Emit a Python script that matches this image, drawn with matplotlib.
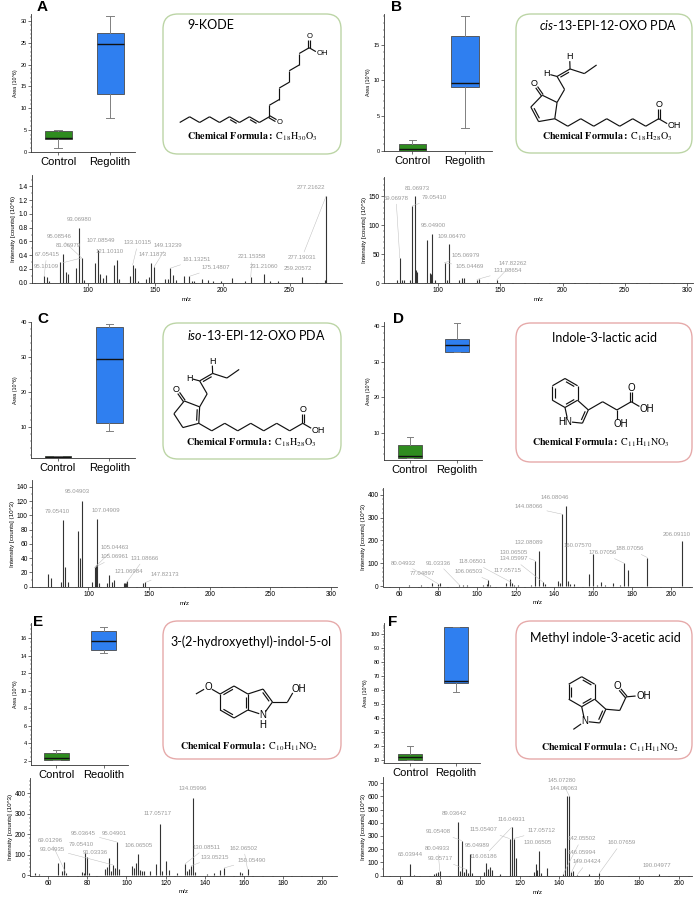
import numpy as np
import matplotlib
matplotlib.use("Agg")
import matplotlib.pyplot as plt
from matplotlib.patches import FancyBboxPatch
from matplotlib.ticker import MultipleLocator, FormatStrFormatter

plt.rcParams['font.family'] = ['Liberation Sans', 'DejaVu Sans']
plt.rcParams['mathtext.fontset'] = 'custom'
plt.rcParams['mathtext.rm'] = 'Lato'
plt.rcParams['mathtext.it'] = 'Lato:italic'
plt.rcParams['mathtext.bf'] = 'Lato:bold'

# ---------------- data ----------------
groups = ['Control', 'Regolith']
# box stats (Area, 10^6): whisker low, q1, median, q3, whisker high
a_ctrl = [1.0, 2.9, 3.3, 4.9, 5.1]
a_reg = [7.9, 13.2, 24.7, 27.2, 31.2]
b_ctrl = [0.0, 0.05, 0.3, 1.05, 1.5]
b_reg = [3.3, 9.06, 9.6, 16.2, 19.0]
c_ctrl = [1.2, 1.25, 1.4, 1.6, 1.65]
c_reg = [8.7, 11.0, 29.3, 38.5, 39.3]
d_ctrl = [3.1, 3.1, 3.4, 6.6, 8.8]
d_reg = [32.8, 32.8, 34.7, 36.4, 40.8]
e_ctrl = [2.1, 2.1, 2.4, 2.87, 3.25]
e_reg = [14.3, 14.6, 15.6, 16.8, 17.2]
f_ctrl = [10.0, 10.0, 12.0, 14.3, 20.0]
f_reg = [58.8, 64.8, 66.5, 104.8, 105.2]

# MS/MS spectra
a_mz = [67, 69, 71, 79, 81, 83, 85, 91, 93, 95, 97, 105, 107, 109, 111, 113, 119, 121, 123,
        131, 133, 135, 137, 143, 145, 147, 149, 157, 159, 161, 163, 165, 171, 175, 177, 179,
        185, 189, 193, 199, 207, 217, 221, 231, 235, 241, 259, 276.4, 277.2]
a_int = [0.09, 0.08, 0.02, 0.30, 0.41, 0.16, 0.12, 0.22, 0.80, 0.36, 0.04, 0.29, 0.47, 0.13,
         0.07, 0.11, 0.25, 0.33, 0.05, 0.10, 0.26, 0.21, 0.03, 0.05, 0.08, 0.28, 0.23, 0.06,
         0.05, 0.21, 0.11, 0.04, 0.10, 0.09, 0.03, 0.02, 0.06, 0.04, 0.03, 0.02, 0.07, 0.03,
         0.08, 0.12, 0.03, 0.02, 0.08, 0.04, 1.26]
a_lab = [("277.21622", 266, 1.385), ("93.06980", 93, 0.92), ("95.08546", 78, 0.67),
         ("81.06979", 85, 0.54), ("67.05415", 69, 0.41), ("95.10109", 69, 0.23),
         ("107.08549", 109, 0.61), ("121.10110", 116, 0.45), ("133.10115", 137, 0.58),
         ("149.13239", 159, 0.54), ("147.11873", 148, 0.41), ("161.13251", 181, 0.34),
         ("175.14807", 195, 0.22), ("221.15358", 222, 0.38), ("231.21060", 231, 0.23),
         ("277.19031", 259, 0.36), ("259.20572", 256, 0.20)]

b_mz = [67, 69, 71, 72, 77, 79, 81, 82, 83, 91, 93, 94, 95, 97, 105, 107, 109, 117, 119, 121,
        131, 133, 147]
b_int = [5, 43, 5, 5, 5, 133, 150, 22, 19, 75, 18, 15, 85, 5, 35, 5, 68, 5, 9, 8, 6, 7, 5]
b_lab = [("81.06973", 83, 164), ("69.06978", 66, 146.5), ("79.05410", 97, 147),
         ("95.04900", 96, 100), ("109.06470", 111, 81), ("105.06979", 122, 48),
         ("105.04469", 125, 28), ("147.82262", 160, 34), ("131.08654", 156, 21)]

c_mz = [67, 69, 77, 79, 81, 83, 91, 93, 95, 103, 105, 106, 107, 109, 115, 117, 119, 121,
        129, 130, 131, 132, 145, 147]
c_int = [18, 12, 6, 94, 28, 6, 78, 40, 121, 7, 27, 30, 95, 5, 5, 16, 6, 9, 5, 5, 5, 8, 5, 6]
c_lab = [("95.04903", 91, 133), ("79.05410", 74, 105), ("107.04909", 114, 107),
         ("105.04463", 122, 55), ("105.06961", 122, 42), ("131.08666", 146, 40),
         ("121.06984", 133, 21), ("147.82173", 163, 17)]

d_mz = [65, 71, 77, 80, 81, 91, 93, 95, 103, 105, 106, 107, 115, 117, 118, 119, 121, 128,
        130, 132, 134, 135, 142, 143, 144, 146, 147, 148, 150, 158, 160, 162, 164, 166, 170,
        174, 176, 178, 188, 206]
d_int = [3, 5, 15, 10, 12, 5, 5, 5, 3, 8, 25, 5, 12, 30, 15, 5, 5, 5, 112, 155, 18, 8, 22,
         15, 315, 350, 22, 8, 8, 55, 142, 5, 18, 5, 12, 5, 100, 70, 125, 197]
d_lab = [("146.08046", 140, 387), ("144.08066", 127, 347), ("132.08089", 127, 189),
         ("130.06505", 119, 145), ("134.05997", 119, 119), ("160.07570", 152, 176),
         ("176.07056", 165, 145), ("188.07056", 179, 163), ("206.09110", 203, 224),
         ("80.04932", 62, 101), ("91.03336", 80, 101), ("118.06501", 98, 106),
         ("77.04897", 72, 57), ("106.06503", 96, 62), ("117.05715", 116, 66)]

e_mz = [53, 55, 65, 67, 68, 69, 77, 78, 79, 80, 81, 89, 90, 91, 92, 93, 94, 95, 96, 103, 104,
        105, 106, 107, 108, 109, 112, 115, 117, 118, 120, 122, 126, 130, 131, 132, 133, 134,
        135, 141, 145, 148, 150, 158, 159, 162]
e_int = [8, 5, 60, 18, 62, 10, 15, 10, 110, 88, 10, 30, 40, 85, 20, 50, 35, 162, 28, 45, 35,
         60, 102, 25, 18, 22, 20, 55, 252, 22, 70, 25, 10, 55, 20, 30, 45, 378, 15, 5, 12, 25,
         35, 15, 12, 28]
e_lab = [("134.05996", 134, 424), ("117.05717", 116, 302), ("95.03645", 78, 205),
         ("95.04901", 94, 205), ("69.01296", 61, 171), ("79.05410", 77, 151),
         ("93.04935", 62, 127), ("91.03336", 84, 112), ("106.06505", 106, 146),
         ("130.08511", 141, 137), ("162.06502", 160, 132), ("133.05215", 145, 88),
         ("150.05490", 164, 73)]

f_mz = [65, 67, 77, 78, 79, 80, 89, 90, 91, 92, 93, 94, 95, 96, 102, 103, 104, 105, 106, 110,
        115, 116, 117, 118, 127, 128, 129, 130, 131, 134, 142, 143, 144, 145, 146, 147, 149,
        155, 160, 190]
f_int = [88, 5, 12, 18, 30, 35, 403, 38, 265, 30, 48, 20, 162, 18, 25, 95, 50, 65, 40, 15,
         280, 365, 280, 130, 25, 85, 45, 185, 20, 55, 15, 210, 600, 600, 25, 35, 8, 12, 18, 12]
f_lab = [("145.07280", 141, 722), ("144.06063", 142, 662), ("89.03642", 87.5, 473),
         ("116.04931", 116, 428), ("91.05408", 79, 331), ("115.05407", 102, 346),
         ("117.05712", 131, 338), ("142.05502", 151, 278), ("95.04989", 99, 226),
         ("130.06505", 129, 248), ("80.04933", 79, 203), ("65.03944", 65, 158),
         ("93.05717", 80, 128), ("116.06186", 102, 143), ("146.05994", 151, 173),
         ("160.07659", 171, 248), ("149.04424", 154, 105), ("190.04977", 189, 75)]

titles = ['9-KODE', r'$\it{cis}$-13-EPI-12-OXO PDA', r'$\it{iso}$-13-EPI-12-OXO PDA',
          'Indole-3-lactic acid', '3-(2-hydroxyethyl)-indol-5-ol', 'Methyl indole-3-acetic acid']
formulas = ['C_{18}H_{30}O_{3}', 'C_{18}H_{28}O_{3}', 'C_{18}H_{28}O_{3}',
            'C_{11}H_{11}NO_{3}', 'C_{10}H_{11}NO_{2}', 'C_{11}H_{11}NO_{2}']
letters = ['A', 'B', 'C', 'D', 'E', 'F']

# ---------------- layout helpers ----------------
W_PX, H_PX = 697, 898
fig = plt.figure(figsize=(6.97, 8.98), dpi=100)


def px_axes(l, t, r, b):
    return fig.add_axes([l / W_PX, 1 - b / H_PX, (r - l) / W_PX, (b - t) / H_PX])


def draw_box(rect, ctrl, reg, ylim, ystep, yminor, xlim):
    ax = px_axes(*rect)
    stats = []
    for lab, v in zip(groups, [ctrl, reg]):
        stats.append(dict(label=lab, whislo=v[0], q1=v[1], med=v[2], q3=v[3],
                          whishi=v[4], fliers=[]))
    bp = ax.bxp(stats, positions=[1, 2], widths=0.52, patch_artist=True, showfliers=False,
                boxprops=dict(edgecolor='#4a4a4a', linewidth=0.6),
                medianprops=dict(color='#111111', linewidth=1.0),
                whiskerprops=dict(color='#808080', linewidth=0.7),
                capprops=dict(color='#808080', linewidth=0.7), capwidths=0.14)
    for patch, col in zip(bp['boxes'], ['#2f8c1f', '#2f7ff0']):
        patch.set_facecolor(col)
    ax.set_xlim(*xlim)
    ax.set_ylim(*ylim)
    ax.yaxis.set_major_locator(MultipleLocator(ystep))
    ax.yaxis.set_minor_locator(MultipleLocator(yminor))
    for s in ('top', 'right'):
        ax.spines[s].set_visible(False)
    for s in ('left', 'bottom'):
        ax.spines[s].set_linewidth(0.6)
        ax.spines[s].set_color('#333333')
    ax.tick_params(axis='y', labelsize=4, length=2, width=0.4, pad=1)
    ax.tick_params(axis='y', which='minor', length=1, width=0.3)
    ax.tick_params(axis='x', labelsize=8, length=2, width=0.4, pad=1.5)
    ax.set_ylabel('Area (10^6)', fontsize=3.8, labelpad=2)
    return ax


def draw_spec(rect, mz, inten, labels, xlim, ylim, xmaj, xmin, ymaj, ymin, unit, yfmt):
    ax = px_axes(*rect)
    ax.vlines(mz, 0, inten, color='#333333', lw=0.8)
    ax.set_xlim(*xlim)
    ax.set_ylim(*ylim)
    ax.xaxis.set_major_locator(MultipleLocator(xmaj))
    ax.xaxis.set_minor_locator(MultipleLocator(xmin))
    ax.yaxis.set_major_locator(MultipleLocator(ymaj))
    ax.yaxis.set_minor_locator(MultipleLocator(ymin))
    ax.yaxis.set_major_formatter(FormatStrFormatter(yfmt))
    for s in ('top', 'right'):
        ax.spines[s].set_visible(False)
    for s in ('left', 'bottom'):
        ax.spines[s].set_linewidth(0.6)
        ax.spines[s].set_color('#333333')
    ax.tick_params(labelsize=4.8, length=2, width=0.4, pad=1)
    ax.tick_params(which='minor', length=1, width=0.3)
    ax.set_ylabel('Intensity [counts] (10^%s)' % unit, fontsize=4.5, labelpad=1.5)
    ax.set_xlabel('m/z', fontsize=4.5, labelpad=2)
    ppx = (rect[2] - rect[0]) / (xlim[1] - xlim[0])
    ppy = (rect[3] - rect[1]) / (ylim[1] - ylim[0])
    mz_arr = np.array(mz, float)
    in_arr = np.array(inten, float)
    for txt, lx, ly in labels:
        i = int(np.argmin(np.abs(mz_arr - float(txt))))
        pm, pi = mz_arr[i], in_arr[i]
        near = abs(pm - float(txt)) <= 1.6
        half = len(txt) * 3.3 / 2
        above = abs(lx - pm) * ppx < half + 1 and 0 < (ly - pi) * ppy < 12
        kw = dict(ha='center', va='center', fontsize=4.3, color='#9a9a9a')
        if near and not above:
            ax.annotate(txt, xy=(pm, pi), xytext=(lx, ly),
                        arrowprops=dict(arrowstyle='-', color='#bdbdbd', lw=0.35,
                                        shrinkA=0.5, shrinkB=0), **kw)
        else:
            ax.text(lx, ly, txt, **kw)
    return ax


def struct_box(rect, edge):
    l, t, r, b = rect
    ax = px_axes(l, t, r, b)
    w, h = r - l, b - t
    ax.set_xlim(0, w)
    ax.set_ylim(0, h)
    ax.axis('off')
    ax.add_patch(FancyBboxPatch((1, 1), w - 2, h - 2,
                                boxstyle='round,pad=0,rounding_size=15',
                                fc='white', ec=edge, lw=1.0, clip_on=False))
    return ax


# ---------------- structure drawing helpers ----------------
def P(x, y):
    return np.array([x, y], float)


def step(p, ang, L):
    r = np.radians(ang)
    return p + L * np.array([np.cos(r), np.sin(r)])


def walk(p, angs, L):
    pts = [np.asarray(p, float)]
    for a in angs:
        pts.append(step(pts[-1], a, L))
    return pts


def seg(ax, p, q, s0=0.0, s1=0.0, off=0.0, trim=0.0):
    d = q - p
    u = d / np.linalg.norm(d)
    n = np.array([-u[1], u[0]])
    a = p + u * (s0 + trim) + n * off
    b = q - u * (s1 + trim) + n * off
    ax.plot([a[0], b[0]], [a[1], b[1]], color='#111111', lw=0.85, solid_capstyle='butt')


def chain(ax, pts):
    for p, q in zip(pts[:-1], pts[1:]):
        seg(ax, p, q)


def inner(ax, p, q, c, gap=2.3):
    d = q - p
    u = d / np.linalg.norm(d)
    n = np.array([-u[1], u[0]])
    side = 1 if np.dot(c - (p + q) / 2, n) > 0 else -1
    seg(ax, p, q, off=side * gap, trim=2.5)


def carbonyl(ax, p, q, s1=3.8):
    seg(ax, p, q, s1=s1, off=1.1)
    seg(ax, p, q, s1=s1, off=-1.1)


def atom(ax, p, s, fs):
    ax.text(p[0], p[1], s, ha='center', va='center', fontsize=fs)


def oh(ax, p, fs):
    ax.text(p[0] - 0.54 * fs, p[1], 'OH', ha='left', va='center', fontsize=fs)


def mol_kode(ax, fs):
    L = 11.5
    left = walk(P(17.7, 32.5), [30, -30] * 4 + [30], L)
    chain(ax, left)
    for k in (5, 7):
        seg(ax, left[k], left[k + 1], off=-2.2, trim=2)
    k9 = left[-1]
    o = step(k9, -30, L)
    carbonyl(ax, k9, o)
    atom(ax, o, 'O', fs)
    up = walk(k9, [90, 30] * 4, L)
    chain(ax, up)
    c1 = up[-1]
    o2 = step(c1, 90, L)
    carbonyl(ax, c1, o2)
    atom(ax, o2, 'O', fs)
    o3 = step(c1, -30, L)
    seg(ax, c1, o3, s1=3.8)
    oh(ax, o3, fs)


def mol_opda(ax, c, a0, ring_db, fs):
    R, L = 14, 15
    vs = [c + R * np.array([np.cos(np.radians(a0 - 72 * i)), np.sin(np.radians(a0 - 72 * i))])
          for i in range(5)]
    for i in range(5):
        seg(ax, vs[i], vs[(i + 1) % 5])
    inner(ax, vs[ring_db], vs[(ring_db + 1) % 5], c)
    o = step(vs[0], 125, 14)
    carbonyl(ax, vs[0], o, s1=4.2)
    atom(ax, o, 'O', fs)
    side = walk(vs[1], [60, 120, 30, -18, 35], L)
    chain(ax, side)
    seg(ax, side[2], side[3], off=-2.3, trim=2.5)
    h1 = step(side[2], 165, 11)
    seg(ax, side[2], h1, s1=4)
    atom(ax, h1, 'H', fs)
    h2 = step(side[3], 92, 12)
    seg(ax, side[3], h2, s1=4.2)
    atom(ax, h2, 'H', fs)
    tail = walk(vs[2], [-30, 30] * 4, L)
    chain(ax, tail)
    c1 = tail[-1]
    o2 = step(c1, 90, 14)
    carbonyl(ax, c1, o2, s1=4.2)
    atom(ax, o2, 'O', fs)
    o3 = step(c1, -30, 14)
    seg(ax, c1, o3, s1=4.2)
    oh(ax, o3, fs)


def indole(ax, c, r, rot, fs):
    c30 = np.cos(np.radians(30))
    std = dict(C4=(0, 1), C3a=(c30, 0.5), C7a=(c30, -0.5), C7=(0, -1),
               C6=(-c30, -0.5), C5=(-c30, 0.5))
    pc = np.array([c30 + 0.6882, 0.0])
    rp = 0.8507
    for name, ang in (('C3', 72), ('C2', 0), ('N1', -72)):
        std[name] = tuple(pc + rp * np.array([np.cos(np.radians(ang)), np.sin(np.radians(ang))]))
    th = np.radians(rot)
    rm = np.array([[np.cos(th), -np.sin(th)], [np.sin(th), np.cos(th)]])
    at = {k: c + r * (rm @ np.array(v)) for k, v in std.items()}
    pcen = c + r * (rm @ pc)
    ring6 = ['C4', 'C3a', 'C7a', 'C7', 'C6', 'C5']
    for i in range(6):
        seg(ax, at[ring6[i]], at[ring6[(i + 1) % 6]])
    seg(ax, at['C3a'], at['C3'])
    seg(ax, at['C3'], at['C2'])
    seg(ax, at['C2'], at['N1'], s1=4)
    seg(ax, at['N1'], at['C7a'], s0=4)
    for a_, b_ in (('C4', 'C5'), ('C6', 'C7'), ('C3a', 'C7a')):
        inner(ax, at[a_], at[b_], c)
    inner(ax, at['C2'], at['C3'], pcen)
    atom(ax, at['N1'], 'N', fs)
    return at


def mol_ila(ax, fs):
    at = indole(ax, P(50, 70), 14.5, -60, fs)
    atom(ax, at['N1'] + P(-6, 0), 'H', fs)
    ch = walk(at['C3'], [30, -30, 30], 16.5)
    chain(ax, ch)
    o = step(ch[2], -90, 14)
    seg(ax, ch[2], o, s1=4.5)
    oh(ax, o, fs)
    c1 = ch[3]
    o2 = step(c1, 90, 14)
    carbonyl(ax, c1, o2, s1=4.5)
    atom(ax, o2, 'O', fs)
    o3 = step(c1, -30, 14)
    seg(ax, c1, o3, s1=4.5)
    oh(ax, o3, fs)


def mol_hei(ax, fs):
    at = indole(ax, P(72, 58), 16, 0, fs)
    atom(ax, at['N1'] + P(0, -10), 'H', fs)
    o = step(at['C5'], 150, 14)
    seg(ax, at['C5'], o, s1=4.5)
    atom(ax, o, 'O', fs)
    me = step(o, 210, 14)
    seg(ax, o, me, s0=4.5)
    ch2 = step(at['C2'], 0, 15)
    seg(ax, at['C2'], ch2)
    o2 = step(ch2, 60, 15)
    seg(ax, ch2, o2, s1=4.5)
    oh(ax, o2, fs)


def mol_mia(ax, fs):
    at = indole(ax, P(66.7, 68.3), 15, -60, fs)
    me = step(at['N1'], -145, 14)
    seg(ax, at['N1'], me, s0=4.5)
    ch2 = step(at['C3'], -5, 14)
    seg(ax, at['C3'], ch2)
    c1 = step(ch2, 65, 15)
    seg(ax, ch2, c1)
    o = step(c1, 130, 14)
    carbonyl(ax, c1, o, s1=4.5)
    atom(ax, o, 'O', fs)
    o2 = step(c1, 5, 14)
    seg(ax, c1, o2, s1=4.5)
    oh(ax, o2, fs)


# ---------------- panels ----------------
box_rects = [(31, 14, 135, 152), (384, 14, 492, 151), (31, 322, 135, 458),
             (384, 322, 482, 460), (31, 623, 128, 765), (384, 623, 480, 763)]
box_data = [(a_ctrl, a_reg), (b_ctrl, b_reg), (c_ctrl, c_reg),
            (d_ctrl, d_reg), (e_ctrl, e_reg), (f_ctrl, f_reg)]
box_ylim = [(0, 31.6), (0, 19.3), (1, 40), (2.4, 41.2), (1.55, 17.7), (8, 107.8)]
box_ystep = [(5, 1), (5, 1), (10, 2), (10, 2), (2, 0.5), (10, 2)]
box_xlim = [(0.48, 2.48), (0.46, 2.51), (0.476, 2.5), (0.45, 2.53), (0.47, 2.51), (0.435, 2.52)]

for i in range(6):
    draw_box(box_rects[i], box_data[i][0], box_data[i][1], box_ylim[i],
             box_ystep[i][0], box_ystep[i][1], box_xlim[i])

spec_specs = [
    ((32, 175, 342, 283), a_mz, a_int, a_lab, (58, 289), (-0.005, 1.566), 50, 10, 0.2, 0.1, '6', '%.1f'),
    ((384, 177, 693, 283.3), b_mz, b_int, b_lab, (56.3, 305), (-0.5, 183), 50, 10, 50, 10, '3', '%d'),
    ((32, 480, 337, 587), c_mz, c_int, c_lab, (53.4, 305), (-0.4, 149.8), 50, 10, 20, 10, '3', '%d'),
    ((383, 488, 692, 586.5), d_mz, d_int, d_lab, (51.6, 211), (-2, 430), 20, 5, 100, 20, '3', '%d'),
    ((30, 778, 337, 875.5), e_mz, e_int, e_lab, (50.6, 207.8), (-2, 475), 20, 5, 100, 20, '3', '%d'),
    ((383, 777, 692, 876), f_mz, f_int, f_lab, (51.5, 206.5), (-3, 746), 20, 5, 100, 50, '3', '%d'),
]
for sp in spec_specs:
    draw_spec(*sp)

struct_rects = [(162, 13, 342, 155), (515, 13, 693, 154), (162, 322, 342, 460),
                (515, 322, 693, 463), (162, 620, 342, 760), (515, 620, 693, 760)]
edges = ['#bcd5a6', '#bcd5a6', '#bcd5a6', '#e6aaaa', '#e6aaaa', '#e6aaaa']
title_pos = [(25, 130, 'left'), (93.5, 129, 'center'), (94.7, 125, 'center'),
             (90, 125, 'center'), (89, 118, 'center'), (90, 122, 'center')]
formula_pos = [(90, 18), (92.5, 17), (89, 17), (86, 20), (87, 13), (95, 12)]

for i in range(6):
    ax = struct_box(struct_rects[i], edges[i])
    tx, ty, ha = title_pos[i]
    ax.text(tx, ty, titles[i], ha=ha, va='center', fontsize=9, family='Lato')
    fx, fy = formula_pos[i]
    ax.text(fx, fy, r'$\mathbf{Chemical\ Formula:}\ \mathrm{' + formulas[i] + '}$',
            ha='center', va='center', fontsize=7.2, math_fontfamily='stix')
    if i == 0:
        mol_kode(ax, 5.5)
    elif i == 1:
        mol_opda(ax, P(29.7, 45), 100, 3, 6.5)
    elif i == 2:
        mol_opda(ax, P(25.9, 45.5), 105, 1, 6.5)
    elif i == 3:
        mol_ila(ax, 7)
    elif i == 4:
        mol_hei(ax, 7)
    else:
        mol_mia(ax, 7)

letter_pos = [(42, 7), (397, 7), (43, 319), (398, 319), (38, 622), (393, 622)]
for lab, (x, y) in zip(letters, letter_pos):
    fig.text(x / W_PX, 1 - y / H_PX, lab, ha='center', va='center', fontsize=11,
             fontweight='bold')

fig.savefig('out.png', dpi=100)
